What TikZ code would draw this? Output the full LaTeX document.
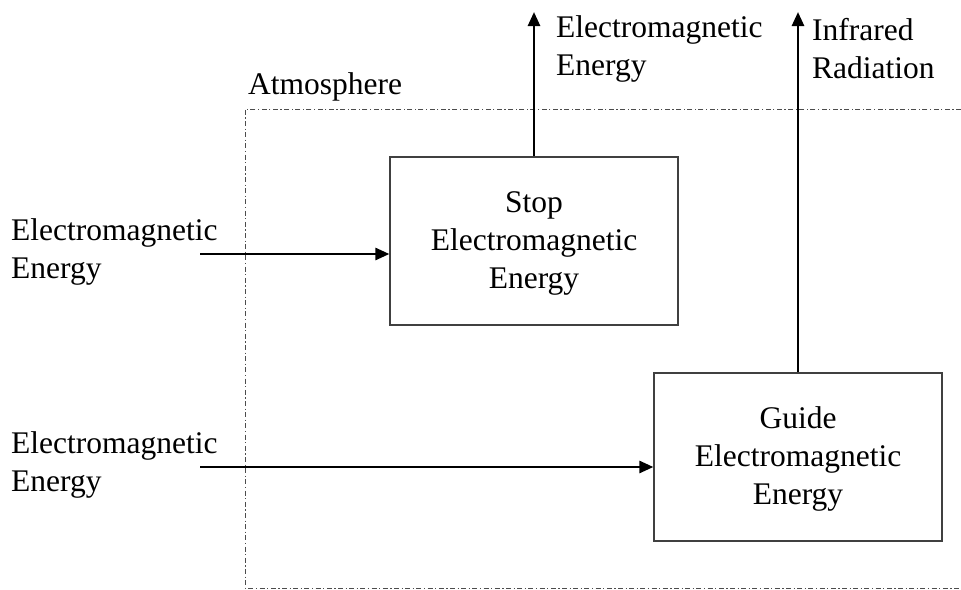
\documentclass[tikz,border=0pt]{standalone}
\usepackage{fontspec}
\setmainfont{Liberation Serif}
\usetikzlibrary{arrows.meta}
\begin{document}
\begin{tikzpicture}[x=1pt,y=-1pt,
  lbl/.style={font=\fontsize{31.5}{38}\selectfont, inner sep=0pt, align=left},
  boxtxt/.style={font=\fontsize{31.5}{38}\selectfont, align=center},
  fbox/.style={draw=black!75, line width=1.2pt, minimum width=288pt, minimum height=168pt},
  flow/.style={line width=2.6pt, -{Triangle[length=14pt,width=12pt]}},
  bound/.style={draw=black!70, line width=1pt, dash pattern=on 5pt off 2.5pt on 1.2pt off 2.5pt}]
\useasboundingbox (0,0) rectangle (961,589);
% boundary
\draw[bound] (961,109) -- (245,109) -- (245,588) -- (961,588);
\node[lbl, anchor=west] (atm) at (248,87) {Atmosphere};
% boxes
\node[fbox] (stop) at (534,241) {};
\node[boxtxt] (stoptxt) at (534,243) {Stop\\Electromagnetic\\Energy};
\node[fbox] (guide) at (798,457) {};
\node[boxtxt] (guidetxt) at (798,459) {Guide\\Electromagnetic\\Energy};
% inputs
\node[lbl, anchor=west] (in1) at (11,252) {Electromagnetic\\Energy};
\node[lbl, anchor=west] (in2) at (11,465) {Electromagnetic\\Energy};
\coordinate (s1) at (200,254);
\coordinate (s2) at (200,467);
\draw[flow] (s1) -- (s1 -| stop.west);
\draw[flow] (s2) -- (s2 -| guide.west);
% outputs
\coordinate (o1) at (534,12);
\coordinate (o2) at (798,12);
\draw[flow] (stop.north) -- (o1);
\draw[flow] (guide.north) -- (o2);
\node[lbl, anchor=west] (out1) at (556,49) {Electromagnetic\\Energy};
\node[lbl, anchor=west] (out2) at (812,49) {Infrared\\Radiation};
\end{tikzpicture}
\end{document}
